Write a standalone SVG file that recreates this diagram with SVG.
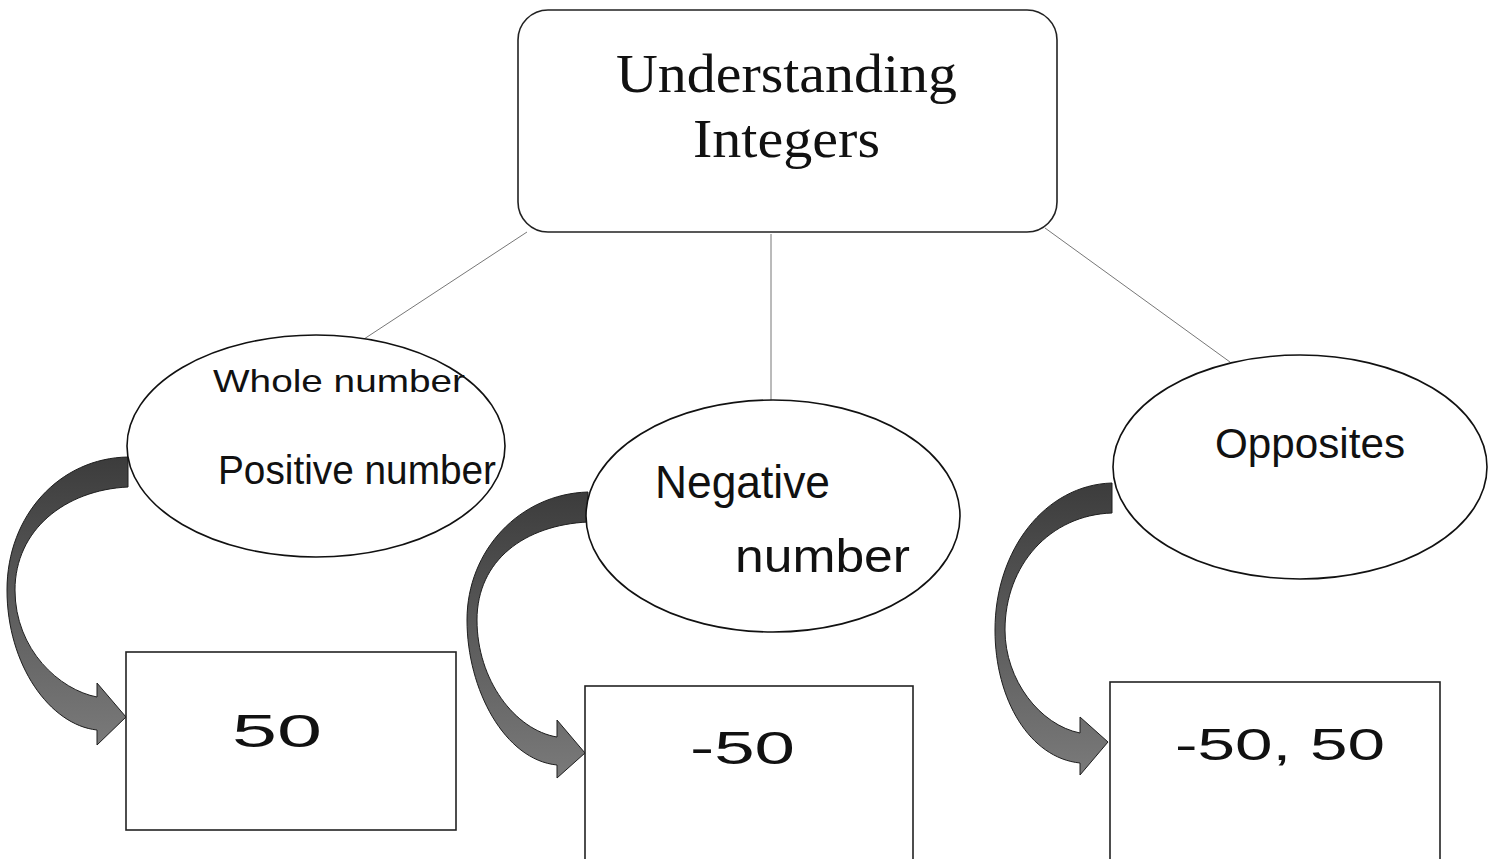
<svg xmlns="http://www.w3.org/2000/svg" width="1494" height="859" viewBox="0 0 1494 859">
<defs>
<linearGradient id="ag" x1="0" y1="0" x2="0" y2="1">
<stop offset="0" stop-color="#3c3c3c"/>
<stop offset="1" stop-color="#7a7a7a"/>
</linearGradient>
<style>
.title{font-family:"Liberation Serif",serif;font-size:55px;fill:#111}
.hand{font-family:"Liberation Sans",sans-serif;fill:#111}
.ell{fill:#fff;stroke:#111;stroke-width:1.6}
.box{fill:#fff;stroke:#222;stroke-width:1.6}
.conn{stroke:#777;stroke-width:1;fill:none}
.arr{fill:url(#ag);stroke:#1e1e1e;stroke-width:1}
</style>
</defs>
<rect width="1494" height="859" fill="#fff"/>
<g id="connectors">
<line class="conn" x1="527" y1="232" x2="364" y2="339"/>
<line class="conn" x1="771" y1="234" x2="771" y2="400"/>
<line class="conn" x1="1045" y1="228" x2="1230" y2="362"/>
<path class="arr" d="M128,457 C60,458 7,515 7,590 C7,665 50,725 97,730 L97,745 L126,717 L97,683 L97,697 C60,690 15,650 15,590 C15,530 65,490 128,487 Z"/>
<path class="arr" d="M588,492 C520,494 467,550 467,620 C467,690 505,760 557,765 L557,778 L585,753 L557,720 L557,737 C515,730 477,680 477,620 C477,560 525,525 588,522 Z"/>
<path class="arr" d="M1112,483 C1045,485 995,550 995,630 C995,700 1030,758 1080,763 L1080,775 L1108,742 L1080,717 L1080,733 C1040,725 1005,680 1005,630 C1005,565 1050,515 1112,513 Z"/>
</g>
<g id="root">
<rect x="518" y="10" width="539" height="222" rx="30" ry="30" fill="#fff" stroke="#222" stroke-width="1.6"/>
<text class="title" x="616" y="92" textLength="341" lengthAdjust="spacingAndGlyphs">Understanding</text>
<text class="title" x="693" y="157" textLength="187" lengthAdjust="spacingAndGlyphs">Integers</text>
</g>
<g id="node-positive">
<ellipse class="ell" cx="316" cy="446" rx="189" ry="111"/>
<text class="hand" x="213" y="392" font-size="32" textLength="252" lengthAdjust="spacingAndGlyphs">Whole number</text>
<text class="hand" x="218" y="484" font-size="40" textLength="278" lengthAdjust="spacingAndGlyphs">Positive number</text>
</g>
<g id="node-negative">
<ellipse class="ell" cx="773" cy="516" rx="187" ry="116"/>
<text class="hand" x="655" y="498" font-size="46" textLength="175" lengthAdjust="spacingAndGlyphs">Negative</text>
<text class="hand" x="735" y="572" font-size="46" textLength="175" lengthAdjust="spacingAndGlyphs">number</text>
</g>
<g id="node-opposites">
<ellipse class="ell" cx="1300" cy="467" rx="187" ry="112"/>
<text class="hand" x="1215" y="458" font-size="42" textLength="190" lengthAdjust="spacingAndGlyphs">Opposites</text>
</g>
<g id="box-50">
<rect class="box" x="126" y="652" width="330" height="178"/>
<text class="hand" x="232" y="747" font-size="46" textLength="90" lengthAdjust="spacingAndGlyphs">50</text>
</g>
<g id="box-neg50">
<rect class="box" x="585" y="686" width="328" height="180"/>
<text class="hand" x="690" y="764" font-size="46" textLength="105" lengthAdjust="spacingAndGlyphs">-50</text>
</g>
<g id="box-opp">
<rect class="box" x="1110" y="682" width="330" height="184"/>
<text class="hand" x="1175" y="760" font-size="44" textLength="210" lengthAdjust="spacingAndGlyphs">-50, 50</text>
</g>
</svg>
